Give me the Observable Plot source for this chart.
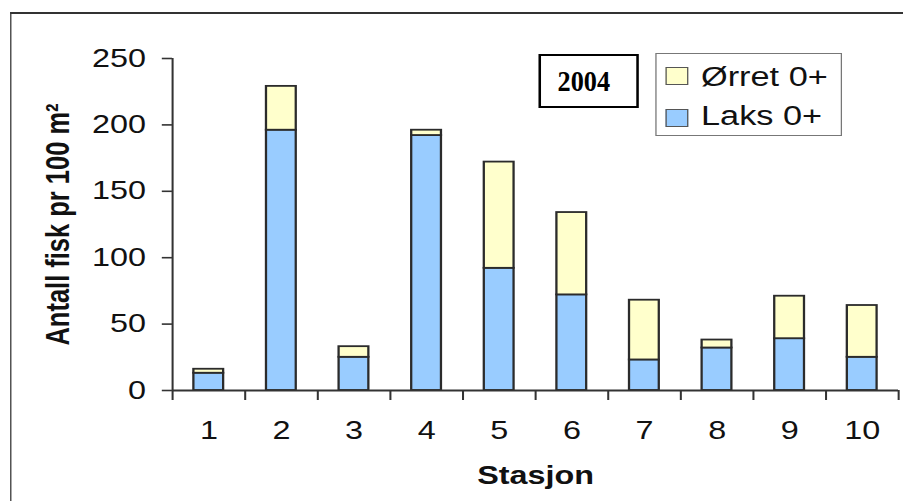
<!DOCTYPE html>
<html>
<head>
<meta charset="utf-8">
<script src="https://cdn.jsdelivr.net/npm/d3@7"></script>
<script src="https://cdn.jsdelivr.net/npm/@observablehq/plot@0.6"></script>
<style>
  html, body { margin: 0; padding: 0; background: #fff; overflow: hidden; }
  #wrap { position: relative; width: 711px; height: 501px; transform: scaleX(1.27); transform-origin: 0 0; }
  #frame { position: absolute; left: 7.9px; top: 12px; width: 900px; height: 700px; border-top: 2px solid #333; border-left: 1.6px solid #333; }
  #chart { position: absolute; left: 0; top: 0; }
  #year { position: absolute; left: 423.6px; top: 54px; width: 79.5px; height: 54px; box-sizing: border-box; border: 2px solid #000; background: #fff; }
  #year span { position: absolute; left: 13.8px; top: 12.1px; font-family: "Liberation Serif", "Times New Roman", serif; font-weight: bold; font-size: 28.5px; line-height: 28.5px; transform: scaleX(0.725); transform-origin: 0 0; color: #000; white-space: nowrap; }
  #legend { position: absolute; left: 516.3px; top: 53px; width: 146.7px; height: 82.7px; box-sizing: border-box; border: 1.5px solid #777; background: #fff; font-family: "Liberation Sans", Arial, sans-serif; }
  #legend .sw { position: absolute; width: 18px; height: 18px; box-sizing: border-box; border: 1.5px solid #555; }
  #legend .lb { position: absolute; font-size: 27px; line-height: 27px; color: #111; white-space: nowrap; }
</style>
</head>
<body>
<div id="wrap">
  <div id="frame"></div>
  <div id="chart"></div>
  <div id="year"></div>
  <div id="legend"></div>
</div>
<script>
// ---- data ----
const stations = [1, 2, 3, 4, 5, 6, 7, 8, 9, 10];
const laks  = [13, 196, 25, 192, 92, 72, 23, 32, 39, 25];   // Laks 0+
const orret = [3, 33, 8, 4, 80, 62, 45, 6, 32, 39];          // Ørret 0+
const species = ["Ørret 0+", "Laks 0+"];
const speciesColors = ["#FFFFCC", "#99CCFF"];
const yTicks = [0, 50, 100, 150, 200, 250];
const yearLabel = "2004";
const xLabel = "Stasjon";
const yLabel = "Antall fisk pr 100 m²";

// ---- derived table ----
const rows = stations.flatMap((s, i) => [
  {station: s, species: species[1], y1: 0, y2: laks[i]},
  {station: s, species: species[0], y1: laks[i], y2: laks[i] + orret[i]}
]);
const bounds = stations.map(s => s - 0.5).concat([stations[stations.length - 1] + 0.5]);
const halfBar = 0.205;
const font = "'Liberation Sans', Arial, sans-serif";

const chart = Plot.plot({
  width: 711,
  height: 501,
  marginLeft: 135.4,
  marginRight: 3.9,
  marginTop: 58,
  marginBottom: 111,
  style: {fontFamily: font, fontSize: "25.5px", color: "#111", background: "transparent", overflow: "visible"},
  x: {type: "linear", domain: [bounds[0], bounds[bounds.length - 1]]},
  y: {domain: [0, 250]},
  color: {domain: species, range: speciesColors},
  marks: [
    Plot.rectY(rows, {
      x1: d => d.station - halfBar,
      x2: d => d.station + halfBar,
      y1: "y1", y2: "y2",
      fill: "species",
      stroke: "#2b2b2b",
      strokeWidth: 1.8
    }),
    Plot.ruleY([0], {stroke: "#333", strokeWidth: 2}),
    Plot.ruleX([bounds[0]], {stroke: "#333", strokeWidth: 1.6}),
    Plot.axisY(yTicks, {tickSize: 8, tickPadding: 13, label: null, stroke: "#333", strokeWidth: 1.6, fontSize: 25.5}),
    Plot.axisX(bounds, {tickSize: 10, tickFormat: () => "", label: null, stroke: "#333", strokeWidth: 1.6}),
    Plot.axisX(stations, {tickSize: 0, tickPadding: 30, label: null, fontSize: 25.5}),
    Plot.text([yLabel], {frameAnchor: "left", rotate: -90, dx: -100, lineAnchor: "top", textAnchor: "middle", fontWeight: "bold", fontSize: 25.5, fill: "#111"}),
    Plot.text([xLabel], {frameAnchor: "bottom", dy: 75, lineAnchor: "top", textAnchor: "middle", fontWeight: "bold", fontSize: 25.5, fill: "#111"})
  ]
});
document.getElementById("chart").appendChild(chart);

// year box
const yb = document.createElement("span");
yb.textContent = yearLabel;
document.getElementById("year").appendChild(yb);

// legend
const legend = document.getElementById("legend");
species.forEach((name, i) => {
  const sw = document.createElement("div");
  sw.className = "sw";
  sw.style.left = "7.2px";
  sw.style.top = (13.2 + i * 41.5) + "px";
  sw.style.background = speciesColors[i];
  legend.appendChild(sw);
  const lb = document.createElement("div");
  lb.className = "lb";
  lb.style.left = "34.7px";
  lb.style.top = (9.6 + i * 39.7) + "px";
  lb.textContent = name;
  legend.appendChild(lb);
});
</script>
</body>
</html>
